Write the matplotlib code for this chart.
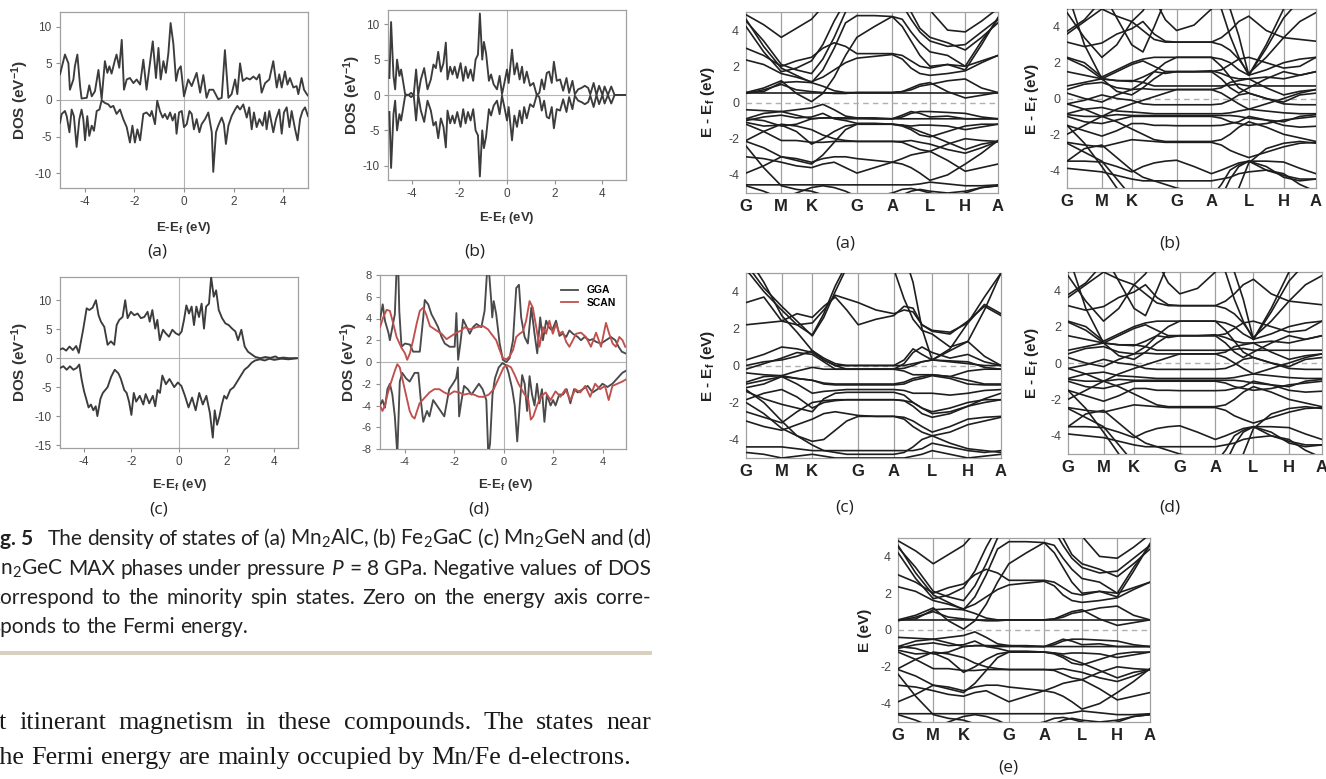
import matplotlib
matplotlib.use("Agg")
import matplotlib.pyplot as plt
from matplotlib.lines import Line2D
from matplotlib.patches import Rectangle

plt.rcParams["font.family"] = ["Liberation Sans", "DejaVu Sans"]
plt.rcParams["mathtext.fontset"] = "custom"
plt.rcParams["mathtext.rm"] = "Lato"
plt.rcParams["mathtext.bf"] = "Liberation Sans:bold"
plt.rcParams["mathtext.it"] = "Lato:italic"
plt.rcParams["axes.unicode_minus"] = False

W, H = 1326, 779

# ---------------- DOS data (energy in eV, DOS in 1/eV) ----------------
dos_a_e_up = [-5.0, -4.8, -4.66, -4.6, -4.46, -4.4, -4.3, -4.19, -4.13, -3.92, -3.82, -3.72, -3.59, -3.45,
              -3.32, -3.19, -3.09, -3.01, -2.92, -2.78, -2.72, -2.61, -2.51, -2.42, -2.31, -2.18, -2.04,
              -1.91, -1.77, -1.64, -1.51, -1.26, -1.13, -1.03, -0.94, -0.83, -0.73, -0.63, -0.54, -0.43,
              -0.32, -0.23, -0.13, 0.0, 0.17, 0.31, 0.51, 0.65, 0.78, 0.91, 1.02, 1.18, 1.38, 1.52, 1.65,
              1.79, 1.92, 2.06, 2.15, 2.26, 2.37, 2.53, 2.66, 2.8, 2.93, 3.04, 3.13, 3.27, 3.44, 3.6,
              3.74, 3.84, 3.94, 4.07, 4.17, 4.27, 4.41, 4.54, 4.61, 4.74, 4.84, 4.95, 5.0]
dos_a_up = [3.5, 6.2, 5.0, 1.4, 2.8, 4.6, 6.2, 1.9, 0.2, 0.3, 2.0, 0.5, 1.2, 4.1, 0.1, 5.3, 3.7, 4.6,
            3.6, 5.5, 6.2, 4.4, 8.2, 1.4, 2.8, 3.0, 2.3, 2.8, 2.1, 5.5, 1.4, 8.0, 3.0, 7.1, 2.8, 5.3,
            3.7, 6.4, 10.5, 7.7, 2.6, 4.1, 4.6, 0.5, 2.8, 1.9, 3.7, 1.0, 3.4, 0.3, 1.4, 1.4, 0.1, 0.3,
            6.8, 0.3, 0.8, 2.8, 0.8, 5.0, 2.6, 3.0, 2.8, 3.2, 2.8, 3.5, 1.0, 2.3, 2.8, 5.3, 1.7, 3.5,
            1.7, 3.9, 2.1, 3.0, 1.7, 1.9, 0.8, 3.0, 1.4, 0.8, 0.6]
dos_a_e_dn = [-5.0, -4.93, -4.8, -4.73, -4.62, -4.53, -4.44, -4.33, -4.22, -4.13, -4.06, -3.99, -3.9,
              -3.82, -3.72, -3.63, -3.52, -3.41, -3.32, -3.19, -3.05, -2.96, -2.85, -2.72, -2.58, -2.45,
              -2.31, -2.18, -2.08, -1.98, -1.88, -1.77, -1.64, -1.51, -1.37, -1.3, -1.17, -1.08, -0.97,
              -0.86, -0.77, -0.67, -0.56, -0.46, -0.36, -0.3, -0.2, -0.09, 0.0, 0.11, 0.22, 0.31, 0.4,
              0.51, 0.62, 0.71, 0.85, 0.98, 1.12, 1.18, 1.29, 1.38, 1.52, 1.61, 1.69, 1.79, 1.92, 2.06,
              2.15, 2.26, 2.39, 2.53, 2.63, 2.73, 2.82, 2.93, 3.04, 3.17, 3.27, 3.33, 3.44, 3.6, 3.71,
              3.84, 3.94, 4.03, 4.14, 4.25, 4.34, 4.48, 4.58, 4.68, 4.78, 4.88, 5.0]
dos_a_dn = [-3.1, -1.9, -1.5, -2.2, -4.4, -1.3, -2.2, -6.4, -2.6, -1.3, -2.6, -5.5, -2.2, -4.9, -3.5,
            -4.2, -1.5, -1.3, -0.05, -0.4, -0.6, -1.0, -0.8, -1.9, -1.3, -2.6, -3.7, -5.8, -3.5, -5.8,
            -4.0, -5.5, -1.9, -1.7, -2.2, -1.5, -3.3, -0.1, -1.5, -2.4, -1.9, -2.6, -1.7, -2.8, -1.9,
            -4.6, -1.7, -1.5, -3.7, -3.3, -1.5, -1.9, -4.0, -2.6, -4.4, -3.3, -2.6, -1.7, -4.4, -9.8,
            -4.4, -3.5, -2.4, -3.3, -6.0, -3.5, -2.2, -1.3, -0.8, -1.3, -0.6, -2.4, -1.0, -4.0, -1.7,
            -3.7, -2.6, -3.5, -1.7, -4.0, -1.5, -4.4, -2.6, -1.3, -4.6, -1.7, -1.0, -3.7, -1.5, -4.0,
            -5.5, -2.6, -1.5, -1.0, -2.2]

dos_b_e = [-4.94, -4.87, -4.77, -4.7, -4.62, -4.52, -4.45, -4.38, -4.28, -4.14, -4.03, -3.92, -3.82,
           -3.73, -3.62, -3.48, -3.34, -3.2, -3.09, -2.99, -2.89, -2.78, -2.67, -2.57, -2.5, -2.39,
           -2.29, -2.2, -2.09, -1.95, -1.84, -1.74, -1.64, -1.53, -1.42, -1.32, -1.22, -1.14, -1.04,
           -0.97, -0.88, -0.76, -0.67, -0.56, -0.42, -0.31, -0.21, -0.11, 0.0, 0.07, 0.21, 0.31, 0.42,
           0.53, 0.63, 0.72, 0.83, 0.97, 1.11, 1.25, 1.36, 1.46, 1.56, 1.67, 1.77, 1.88, 1.97, 2.09,
           2.23, 2.36, 2.5, 2.61, 2.75, 2.85, 2.99, 3.13, 3.27, 3.41, 3.5, 3.64, 3.76, 3.87, 4.01, 4.1,
           4.24, 4.38, 4.52, 4.98]
dos_b_up = [2.4, 10.3, 2.7, 0.8, 5.0, 2.7, 3.6, 2.2, 0.1, 0, 0.3, 0, 3.6, 0, 2.2, 3.8, 0.8, 2.2, 4.3,
            3.8, 6.1, 3.3, 4.5, 7.4, 2.2, 4.0, 2.9, 4.0, 2.4, 4.5, 2.0, 4.0, 2.4, 3.6, 2.0, 5.0, 5.7,
            11.5, 5.0, 7.5, 5.9, 2.0, 2.9, 1.5, 0.8, 2.7, 0.1, 1.7, 3.6, 1.7, 6.4, 2.9, 4.5, 2.2, 4.0,
            1.7, 3.3, 1.3, 1.7, 0, 0.3, 2.2, 0.8, 3.1, 3.3, 1.7, 4.7, 2.0, 2.2, 0.6, 2.4, 0.3, 2.0, 0.1,
            0.8, 1.0, 1.3, 1.0, 0.1, 1.7, 0, 1.3, 0, 1.2, 0, 1.2, 0, 0]
dos_b_dn = [-2.4, -10.3, -2.7, -0.8, -5.0, -2.7, -3.6, -2.2, -0.1, 0, -0.3, 0, -3.6, 0, -2.2, -3.8,
            -0.8, -2.2, -4.3, -3.8, -6.1, -3.3, -4.5, -7.4, -2.2, -4.0, -2.9, -4.0, -2.4, -4.5, -2.0,
            -4.0, -2.4, -3.6, -2.0, -5.0, -5.7, -11.5, -5.0, -7.5, -5.9, -2.0, -2.9, -1.5, -0.8, -2.7,
            -0.1, -1.7, -3.6, -1.7, -6.4, -2.9, -4.5, -2.2, -4.0, -1.7, -3.3, -1.3, -1.7, 0, -0.3,
            -2.2, -0.8, -3.1, -3.3, -1.7, -4.7, -2.0, -2.2, -0.6, -2.4, -0.3, -2.0, -0.1, -0.8, -1.0,
            -1.3, -1.0, -0.1, -1.7, 0, -1.3, 0, -1.2, 0, -1.2, 0, 0]

dos_c_e_up = [-5.0, -4.88, -4.74, -4.6, -4.46, -4.32, -4.21, -4.11, -4.02, -3.88, -3.77, -3.63, -3.49,
              -3.38, -3.28, -3.14, -3.0, -2.86, -2.72, -2.62, -2.51, -2.37, -2.26, -2.16, -2.02, -1.88,
              -1.74, -1.6, -1.46, -1.32, -1.23, -1.12, -1.0, -0.91, -0.81, -0.67, -0.56, -0.42, -0.28,
              -0.14, 0.0, 0.11, 0.21, 0.31, 0.42, 0.53, 0.63, 0.73, 0.84, 0.95, 1.05, 1.14, 1.26, 1.35,
              1.46, 1.56, 1.67, 1.81, 1.95, 2.09, 2.23, 2.37, 2.48, 2.62, 2.76, 2.9, 3.07, 3.21, 3.42,
              3.63, 3.84, 4.05, 4.18, 4.39, 4.6, 4.92]
dos_c_up = [1.5, 1.7, 1.3, 2.0, 1.4, 2.1, 0.9, 3.1, 5.1, 8.6, 8.3, 8.7, 10.0, 7.4, 6.3, 5.4, 2.3, 2.9,
            2.3, 5.7, 6.6, 7.1, 10.0, 6.9, 8.0, 7.4, 7.7, 6.9, 7.1, 8.0, 6.3, 8.3, 5.1, 6.6, 3.1, 4.9,
            4.3, 3.7, 4.9, 4.3, 4.0, 4.6, 6.6, 9.1, 7.7, 8.9, 5.7, 8.9, 7.1, 9.4, 5.1, 8.9, 9.4, 14.0,
            10.6, 11.7, 8.3, 6.9, 6.0, 5.7, 5.1, 4.6, 3.1, 4.9, 2.0, 1.1, 0.6, 0.2, 0, 0.2, 0.05, 0.3,
            0, 0.1, 0, 0]
dos_c_e_dn = [-5.0, -4.86, -4.72, -4.58, -4.44, -4.3, -4.19, -4.09, -3.99, -3.9, -3.8, -3.7, -3.6,
              -3.5, -3.43, -3.3, -3.2, -3.0, -2.85, -2.7, -2.55, -2.45, -2.3, -2.2, -2.1, -2.0, -1.9,
              -1.8, -1.65, -1.5, -1.4, -1.25, -1.1, -1.0, -0.9, -0.8, -0.7, -0.55, -0.4, -0.2, -0.05,
              0.1, 0.25, 0.4, 0.55, 0.7, 0.85, 1.0, 1.15, 1.3, 1.42, 1.5, 1.6, 1.7, 1.8, 1.9, 2.0, 2.15,
              2.3, 2.45, 2.6, 2.75, 2.9, 3.05, 3.2, 3.4, 3.6, 3.8, 4.0, 4.3, 4.6, 5.0]
dos_c_dn = [-1.7, -1.4, -2.0, -1.4, -2.0, -1.7, -1.1, -3.7, -5.7, -7.0, -8.5, -8.0, -9.0, -8.3, -10.0,
            -7.0, -6.0, -5.0, -3.2, -2.0, -2.6, -3.5, -5.5, -6.0, -7.5, -9.8, -6.0, -7.5, -6.5, -8.0,
            -6.2, -7.8, -6.5, -8.3, -5.5, -6.0, -3.0, -4.5, -3.6, -5.0, -4.2, -4.8, -6.5, -8.5, -6.8,
            -9.0, -6.0, -8.0, -6.5, -9.5, -13.7, -9.0, -11.5, -10.0, -8.0, -6.5, -7.0, -5.5, -5.0,
            -4.0, -3.0, -2.0, -1.5, -0.8, -0.4, -0.2, -0.4, -0.1, -0.3, -0.1, -0.2, 0.0]

gga_e_up = [-5.0, -4.89, -4.8, -4.66, -4.6, -4.49, -4.4, -4.33, -4.26, -4.22, -4.13, -3.99, -3.79,
            -3.66, -3.39, -3.25, -3.19, -3.05, -2.92, -2.78, -2.65, -2.51, -2.38, -2.18, -1.98, -1.91,
            -1.84, -1.75, -1.64, -1.51, -1.37, -1.24, -1.1, -0.9, -0.77, -0.67, -0.59, -0.5, -0.46,
            -0.4, -0.3, -0.16, -0.03, 0.11, 0.24, 0.38, 0.51, 0.62, 0.71, 0.85, 0.98, 1.12, 1.25, 1.36,
            1.48, 1.59, 1.72, 1.83, 1.96, 2.12, 2.26, 2.39, 2.53, 2.66, 2.8, 3.0, 3.13, 3.27, 3.47,
            3.6, 3.74, 3.94, 4.14, 4.34, 4.52, 4.65, 4.78, 4.92]
gga_up = [3.9, 5.3, 3.8, 2.7, 2.0, 3.3, 4.4, 8.5, 8.5, 4.7, 1.4, 1.7, 1.6, 0.95, 0.95, 4.1, 5.7, 5.3,
          4.4, 3.8, 3.2, 2.3, 1.7, 1.4, 1.4, 4.5, 0.2, 1.7, 3.9, 3.3, 2.6, 3.2, 3.5, 3.2, 4.7, 8.3, 8.3,
          5.6, 4.1, 5.6, 4.4, 1.7, 0.2, 0, 0.35, 2.0, 6.8, 7.1, 4.1, 2.3, 1.7, 5.0, 2.6, 0.8, 4.1, 2.0,
          3.8, 3.2, 2.9, 3.8, 2.4, 2.6, 2.3, 2.9, 2.6, 2.3, 2.0, 2.3, 2.0, 2.1, 1.85, 1.7, 2.0, 2.3,
          2.0, 1.4, 0.95, 0.8]
scan_e_up = [-5.0, -4.87, -4.73, -4.6, -4.46, -4.33, -4.13, -3.99, -3.9, -3.79, -3.66, -3.52, -3.39,
             -3.25, -3.12, -2.98, -2.72, -2.51, -2.31, -2.11, -1.91, -1.71, -1.57, -1.37, -1.1, -0.83,
             -0.63, -0.5, -0.3, -0.16, -0.03, 0.11, 0.24, 0.38, 0.51, 0.65, 0.78, 0.91, 1.05, 1.18,
             1.32, 1.45, 1.59, 1.72, 1.85, 1.99, 2.12, 2.26, 2.39, 2.53, 2.66, 2.8, 2.93, 3.13, 3.33,
             3.53, 3.74, 3.94, 4.14, 4.27, 4.41, 4.54, 4.68, 4.81, 4.92]
scan_up = [3.2, 4.1, 4.8, 4.7, 3.5, 2.3, 1.3, 0.8, 0.2, 0.8, 2.0, 3.5, 4.7, 5.0, 4.3, 3.3, 2.9, 2.6,
           2.1, 2.4, 2.7, 2.9, 3.2, 3.0, 3.2, 3.3, 3.0, 2.6, 2.0, 1.1, 0.35, 0.25, 0.5, 1.1, 2.3, 2.6,
           2.8, 3.8, 5.6, 5.0, 3.2, 1.4, 3.2, 2.6, 3.8, 2.6, 3.5, 2.6, 2.8, 1.85, 1.4, 2.0, 2.6, 2.7,
           2.3, 1.4, 2.7, 1.4, 3.6, 2.6, 1.7, 1.4, 2.3, 2.0, 1.4]
gga_e_dn = [-5.0, -4.9, -4.8, -4.7, -4.6, -4.5, -4.4, -4.3, -4.2, -4.1, -3.95, -3.8, -3.6, -3.45, -3.35,
            -3.25, -3.1, -3.0, -2.85, -2.7, -2.55, -2.4, -2.2, -2.05, -1.92, -1.85, -1.8, -1.7, -1.6,
            -1.45, -1.3, -1.15, -1.0, -0.85, -0.7, -0.62, -0.55, -0.45, -0.35, -0.2, -0.05, 0.1, 0.2,
            0.35, 0.45, 0.55, 0.65, 0.75, 0.85, 0.95, 1.05, 1.15, 1.25, 1.35, 1.45, 1.55, 1.65, 1.75,
            1.9, 2.0, 2.1, 2.25, 2.4, 2.55, 2.7, 2.85, 3.0, 3.2, 3.4, 3.6, 3.8, 4.0, 4.2, 4.4, 4.6, 4.8,
            4.95]
gga_dn = [-4.0, -3.5, -4.2, -2.5, -2.0, -3.0, -5.0, -8.5, -1.8, -1.0, -1.5, -1.8, -1.0, -1.0, -3.5,
          -5.5, -4.5, -5.0, -3.5, -4.0, -4.5, -5.0, -2.5, -2.0, -1.5, -0.5, -5.0, -3.5, -2.2, -2.5,
          -3.0, -2.5, -2.0, -2.5, -3.5, -8.5, -7.5, -3.0, -1.5, -0.5, -0.1, -0.3, -1.0, -2.5, -4.0,
          -7.3, -4.0, -1.2, -2.0, -4.5, -1.3, -3.0, -4.0, -2.0, -3.8, -2.5, -5.5, -3.0, -4.0, -3.5,
          -4.0, -3.0, -3.0, -2.5, -3.8, -2.5, -2.8, -2.5, -2.2, -2.8, -2.5, -2.0, -2.3, -2.0, -1.5,
          -1.0, -0.8]
scan_e_dn = [-5.0, -4.9, -4.8, -4.7, -4.6, -4.5, -4.4, -4.3, -4.2, -4.1, -4.0, -3.9, -3.8, -3.7, -3.6,
             -3.5, -3.4, -3.2, -3.0, -2.8, -2.6, -2.4, -2.2, -2.0, -1.8, -1.6, -1.4, -1.2, -1.0, -0.8,
             -0.6, -0.4, -0.2, 0.0, 0.15, 0.3, 0.45, 0.6, 0.8, 1.0, 1.1, 1.2, 1.35, 1.5, 1.7, 1.9, 2.1,
             2.3, 2.5, 2.7, 2.9, 3.1, 3.3, 3.5, 3.7, 3.9, 4.1, 4.25, 4.4, 4.6, 4.8, 4.95]
scan_dn = [-4.0, -4.5, -4.0, -3.0, -2.2, -1.5, -0.8, -0.2, -0.5, -1.5, -2.5, -3.5, -4.5, -5.0, -5.2,
           -4.5, -3.8, -3.3, -2.8, -2.5, -2.5, -2.8, -3.0, -2.7, -2.8, -3.0, -2.9, -3.0, -3.2, -3.2,
           -3.0, -2.5, -1.5, -0.5, -0.3, -0.5, -1.2, -2.0, -2.8, -3.5, -5.3, -5.0, -4.0, -3.2, -2.8,
           -3.5, -2.7, -3.2, -2.5, -3.5, -2.5, -2.8, -2.2, -3.2, -2.0, -2.5, -2.2, -3.5, -2.2, -2.0,
           -1.8, -1.6]

# ---------------- band structure data ----------------
sym_labels = ["G", "M", "K", "G", "A", "L", "H", "A"]
sym_pos = [0.0, 0.14, 0.26, 0.44, 0.58, 0.73, 0.87, 1.0]
kpts = [0, 0.07, 0.14, 0.20, 0.26, 0.305, 0.35, 0.395, 0.44, 0.51, 0.58, 0.62, 0.655, 0.69, 0.73,
        0.80, 0.87, 0.935, 1.0]

bands_a = [
    [4.85, 4.3, 3.6, 4.1, 4.6, 5.3, 6.0, 6.5, 6.5, 6.5, 6.5, 6.5, 6.2, 5.7, 5.1, 4.0, 3.9, 4.5, 5.2],
    [4.6, 3.1, 1.9, 1.5, 1.1, 1.8, 3.0, 4.4, 4.8, 4.8, 4.75, 4.2, 3.4, 2.6, 2.0, 2.1, 1.8, 3.2, 4.7],
    [4.5, 3.4, 2.1, 1.8, 1.6, 2.4, 3.6, 5.0, 5.8, 6.0, 6.0, 5.4, 4.6, 3.9, 3.4, 3.1, 3.2, 3.9, 4.6],
    [4.2, 2.8, 1.7, 1.9, 2.3, 3.2, 4.5, 5.6, 6.0, 6.0, 6.0, 5.8, 5.0, 4.1, 3.6, 3.3, 2.9, 3.6, 4.4],
    [3.0, 2.6, 2.0, 2.3, 2.5, 3.0, 3.3, 3.1, 2.7, 2.7, 2.7, 2.6, 2.3, 2.0, 1.9, 2.1, 2.0, 2.3, 2.6],
    [2.35, 2.1, 1.6, 1.4, 1.15, 1.4, 1.8, 2.2, 2.45, 2.55, 2.65, 2.4, 1.9, 1.6, 1.5, 1.6, 1.75, 2.2, 2.6],
    [0.55, 0.8, 1.2, 0.5, 0.05, 0.5, 1.4, 2.6, 3.6, 4.2, 4.75, 4.6, 3.9, 3.3, 2.8, 2.6, 2.0, 3.4, 4.6],
    [0.55, 0.55, 0.55, 0.55, 0.55, 0.55, 0.55, 0.55, 0.55, 0.55, 0.55, 0.55, 0.55, 0.55, 0.55, 0.55, 0.55, 0.55, 0.55],
    [0.55, 0.6, 1.1, 1.15, 1.1, 0.9, 0.65, 0.55, 0.55, 0.55, 0.55, 0.6, 0.8, 1.0, 1.1, 0.6, 0.25, 0.4, 0.55],
    [0.5, 0.7, 1.0, 0.7, 0.6, 0.55, 0.5, 0.5, 0.55, 0.55, 0.55, 0.6, 0.7, 0.9, 1.0, 1.2, 1.3, 0.8, 0.55],
    [-0.4, -0.45, -0.5, -0.4, -0.3, -0.1, -0.4, -0.75, -0.85, -0.9, -0.9, -0.8, -0.6, -0.5, -0.5, -0.55, -0.6, -0.8, -0.9],
    [-0.9, -0.6, -0.5, -0.7, -0.9, -0.85, -0.85, -0.9, -0.9, -0.9, -0.9, -0.9, -0.9, -0.9, -0.9, -0.9, -0.9, -0.9, -0.9],
    [-1.0, -0.8, -0.7, -0.85, -0.8, -0.6, -0.9, -1.0, -1.15, -1.15, -1.2, -1.3, -1.5, -1.8, -1.9, -1.6, -1.3, -1.2, -1.2],
    [-1.1, -1.3, -1.25, -1.6, -2.3, -2.0, -1.6, -1.3, -1.2, -1.2, -1.2, -1.25, -1.4, -1.6, -1.8, -2.2, -2.6, -2.3, -2.15],
    [-1.2, -1.6, -2.1, -2.1, -2.2, -2.2, -2.15, -2.15, -2.15, -2.15, -2.15, -2.15, -2.1, -2.2, -2.3, -2.6, -2.8, -2.5, -2.15],
    [-2.1, -1.6, -1.2, -1.3, -1.5, -1.8, -2.0, -2.1, -2.15, -2.15, -2.15, -2.2, -2.4, -2.6, -2.7, -2.3, -2.0, -2.1, -2.15],
    [-2.15, -2.5, -3.0, -3.2, -3.4, -2.9, -2.2, -1.5, -1.2, -1.2, -1.2, -1.25, -1.3, -1.25, -1.25, -1.3, -1.5, -1.35, -1.2],
    [-3.0, -3.1, -3.3, -3.5, -3.6, -3.4, -3.3, -3.6, -3.9, -3.6, -3.3, -3.1, -2.9, -2.8, -2.7, -3.2, -3.8, -3.6, -3.4],
    [-3.9, -3.5, -3.0, -3.1, -3.3, -3.1, -3.0, -3.0, -3.1, -3.2, -3.3, -3.4, -3.6, -3.9, -4.3, -4.0, -3.4, -2.8, -2.1],
    [-4.55, -4.55, -4.55, -4.55, -4.55, -4.55, -4.55, -4.55, -4.55, -4.55, -4.55, -4.55, -4.55, -4.5, -4.4, -4.5, -4.6, -4.6, -4.55],
    [-2.4, -3.6, -4.6, -4.8, -4.9, -5.1, -5.3, -5.5, -5.5, -5.5, -5.3, -5.1, -4.9, -4.8, -4.9, -5.0, -4.9, -4.7, -4.6],
    [-4.6, -4.9, -5.3, -5.0, -4.7, -4.6, -4.7, -4.9, -5.2, -5.2, -5.0, -4.8, -4.75, -4.85, -5.0, -5.2, -5.0, -4.7, -4.6],
    [-0.9, -1.0, -1.3, -1.2, -0.9, -0.85, -0.85, -0.85, -0.85, -0.85, -0.9, -0.7, -0.5, -0.6, -0.8, -0.75, -0.9, -0.9, -0.9],
]

bands_b = [
    [3.75, 4.4, 5.5, 6.0, 6.0, 6.0, 5.6, 4.4, 3.8, 4.1, 5.0, 5.8, 6.0, 6.0, 6.0, 6.0, 6.0, 6.0, 6.0],
    [4.8, 3.4, 2.3, 3.0, 4.3, 3.8, 3.3, 3.15, 3.15, 3.15, 3.15, 3.0, 2.7, 2.2, 1.4, 2.3, 3.4, 4.3, 4.8],
    [3.15, 2.9, 3.1, 3.6, 3.9, 4.3, 3.6, 3.2, 3.15, 3.15, 3.15, 3.4, 3.8, 4.3, 4.6, 3.8, 3.4, 3.3, 3.2],
    [2.3, 2.0, 1.2, 1.6, 2.0, 2.2, 2.3, 2.3, 2.3, 2.3, 2.3, 2.2, 2.0, 1.6, 1.3, 1.6, 2.0, 2.2, 2.3],
    [2.25, 1.8, 1.1, 1.5, 1.9, 2.1, 1.8, 1.5, 1.5, 1.5, 1.5, 1.6, 1.9, 2.2, 2.3, 2.0, 1.7, 1.8, 2.3],
    [1.5, 1.3, 1.1, 1.0, 0.95, 1.2, 1.5, 1.4, 1.5, 1.5, 1.55, 1.4, 1.2, 1.1, 1.1, 1.2, 1.1, 1.3, 1.5],
    [0.7, 0.9, 1.1, 1.0, 1.0, 0.9, 0.7, 0.7, 0.7, 0.7, 0.7, 0.7, 0.75, 0.8, 0.7, 0.7, 0.7, 0.7, 0.7],
    [0.5, 0.8, 0.9, 0.6, 0.5, 0.55, 0.5, 0.5, 0.5, 0.5, 0.5, 0.6, 0.9, 1.0, 1.1, 0.6, 0.2, 0.4, 0.5],
    [0.3, 0.0, -0.2, 0.2, 0.5, 0.9, 1.5, 2.0, 2.3, 2.3, 2.3, 1.8, 1.2, 0.6, 0.3, 0.0, -0.2, 0.2, 0.3],
    [-0.3, -0.1, 0.2, 0.0, -0.1, -0.3, -0.35, -0.35, -0.35, -0.35, -0.35, -0.3, -0.1, 0.2, 0.3, 0.0, -0.3, -0.35, -0.35],
    [-0.85, -0.6, -0.5, -0.7, -0.75, -0.8, -0.85, -0.85, -0.85, -0.85, -0.85, -0.85, -0.8, -0.7, -0.6, -0.7, -0.8, -0.85, -0.85],
    [-0.9, -1.0, -1.0, -0.9, -0.95, -0.95, -0.95, -0.95, -0.95, -0.95, -0.95, -0.95, -0.95, -1.0, -1.1, -1.2, -1.3, -1.0, -0.9],
    [-1.0, -1.3, -1.4, -1.2, -1.0, -1.0, -1.0, -1.0, -1.0, -1.0, -1.0, -1.1, -1.3, -1.4, -1.5, -1.4, -1.2, -1.1, -1.0],
    [-1.5, -1.8, -2.1, -1.8, -1.4, -1.4, -1.5, -1.5, -1.52, -1.52, -1.52, -1.5, -1.4, -1.3, -1.0, -1.2, -1.5, -1.6, -1.55],
    [-2.0, -1.5, -1.0, -1.3, -1.7, -2.0, -2.3, -2.4, -2.4, -2.4, -2.4, -2.3, -2.0, -1.6, -1.3, -1.6, -2.0, -2.2, -2.4],
    [-2.45, -2.6, -2.7, -2.5, -2.3, -2.35, -2.4, -2.45, -2.45, -2.45, -2.45, -2.6, -2.9, -3.1, -3.3, -3.0, -2.7, -2.5, -2.45],
    [-3.5, -3.5, -3.55, -3.8, -4.1, -3.8, -3.6, -3.5, -3.45, -3.8, -4.2, -4.0, -3.8, -3.6, -3.5, -3.5, -3.55, -3.9, -4.2],
    [-3.9, -4.0, -4.1, -4.3, -4.5, -4.6, -4.6, -4.6, -4.6, -4.6, -4.6, -4.5, -4.4, -4.2, -4.1, -4.0, -4.3, -4.5, -4.5],
    [-2.5, -3.0, -3.5, -4.5, -5.5, -6.0, -6.0, -6.0, -6.0, -6.0, -6.0, -5.5, -4.5, -3.8, -3.5, -4.0, -4.2, -4.8, -5.2],
    [5.0, 6.0, 6.0, 4.5, 3.0, 2.6, 4.0, 5.5, 6.0, 6.0, 6.0, 5.0, 3.5, 2.3, 1.3, 2.8, 4.5, 5.5, 6.0],
    [3.6, 4.3, 5.0, 4.6, 4.3, 4.9, 6.0, 6.0, 6.0, 6.0, 6.0, 6.0, 5.0, 3.5, 1.3, 3.0, 5.0, 6.0, 6.0],
    [-3.5, -2.8, -2.6, -3.3, -4.0, -4.4, -4.6, -4.8, -5.0, -5.2, -5.5, -4.8, -4.0, -3.7, -3.5, -3.8, -4.4, -4.6, -4.5],
    [-1.5, -2.5, -3.8, -5.0, -6.0, -6.0, -6.0, -6.0, -6.0, -6.0, -6.0, -6.0, -6.0, -5.0, -3.6, -2.8, -2.5, -2.4, -2.5],
    [6.0, 3.0, 1.1, 0.4, 0.2, 0.6, 1.1, 1.5, 1.5, 1.5, 1.5, 1.1, 0.6, 0.3, 0.6, 1.1, 1.5, 1.3, 1.5],
    [-0.3, -0.6, -1.0, -0.6, -0.3, -0.1, 0.1, 0.3, 0.5, 0.5, 0.5, 0.3, 0.0, -0.3, -0.6, -0.3, 0.0, 0.3, 0.5],
]

bands_c = [
    [5.2, 4.0, 3.0, 2.2, 1.65, 2.8, 4.3, 5.5, 6.0, 6.0, 6.0, 6.0, 4.5, 2.0, 0.3, 0.9, 2.3, 3.7, 5.0],
    [5.5, 4.2, 3.2, 2.4, 1.6, 2.6, 4.0, 5.3, 6.0, 6.0, 5.2, 3.6, 2.5, 1.9, 1.7, 1.0, 1.3, 3.0, 5.0],
    [3.4, 3.7, 2.4, 2.2, 2.3, 3.0, 3.8, 3.6, 3.4, 3.0, 2.8, 3.0, 2.9, 2.2, 1.85, 1.7, 2.4, 3.2, 2.7],
    [2.2, 2.3, 2.4, 2.8, 2.6, 3.2, 3.7, 3.0, 2.2, 2.5, 2.7, 3.2, 3.1, 2.2, 1.9, 1.8, 2.3, 3.3, 2.8],
    [6.0, 4.5, 2.7, 1.8, 0.8, 0.3, 0.0, 0.0, 0.0, 0.0, 0.0, 0.3, 0.9, 0.6, 0.3, 0.8, 1.3, 0.5, 0.0],
    [0.0, 0.2, 0.3, 0.5, 0.8, 0.4, 0.1, 0.0, 0.0, 0.0, 0.0, 0.0, 0.1, 0.2, 0.3, 0.2, 0.1, 0.0, 0.0],
    [-0.2, 0.1, 0.4, 0.7, 0.6, 0.2, -0.2, -0.2, -0.2, -0.2, -0.2, -0.15, 0.0, 0.2, 0.3, 0.25, 0.2, -0.1, -0.2],
    [-0.4, -0.5, -0.55, -0.3, -0.1, -0.2, -0.2, -0.2, -0.2, -0.2, -0.2, -0.3, -0.5, -0.5, -0.5, -0.6, -0.3, -0.2, -0.2],
    [-0.9, -0.6, -0.55, -0.7, -0.8, -0.95, -1.0, -1.0, -1.0, -1.0, -1.0, -0.9, -0.7, -0.6, -0.5, -0.6, -0.8, -1.0, -1.0],
    [-1.0, -0.8, -0.6, -0.7, -0.8, -1.0, -1.05, -1.05, -1.05, -1.05, -1.05, -1.0, -0.8, -0.7, -0.55, -0.7, -1.0, -1.05, -1.05],
    [-1.2, -1.0, -0.6, -1.0, -1.5, -1.4, -1.35, -1.3, -1.3, -1.3, -1.3, -1.35, -1.5, -1.5, -1.5, -1.6, -1.5, -1.35, -1.3],
    [-1.4, -1.8, -2.1, -2.3, -2.5, -1.8, -1.5, -1.45, -1.45, -1.45, -1.45, -1.6, -2.0, -2.3, -2.6, -2.5, -2.2, -1.8, -1.5],
    [-1.85, -1.5, -1.3, -1.7, -2.3, -2.0, -1.9, -1.85, -1.85, -1.85, -1.85, -1.9, -2.2, -2.6, -2.8, -2.6, -2.2, -2.0, -1.85],
    [-2.5, -2.8, -3.1, -2.5, -2.0, -1.9, -1.85, -1.85, -1.85, -1.85, -1.85, -1.9, -2.0, -2.3, -2.5, -2.3, -2.0, -1.85, -1.85],
    [-3.0, -3.3, -3.5, -3.2, -2.9, -2.6, -2.5, -2.6, -2.7, -2.75, -2.75, -2.8, -3.0, -3.3, -3.6, -3.3, -2.9, -2.8, -2.75],
    [-2.0, -2.6, -3.4, -3.8, -4.1, -4.0, -3.5, -3.0, -2.75, -2.75, -2.75, -2.9, -3.3, -3.6, -3.8, -3.6, -3.2, -3.0, -2.8],
    [-4.4, -4.4, -4.4, -4.5, -4.6, -4.6, -4.6, -4.6, -4.6, -4.6, -4.6, -4.6, -4.6, -4.5, -4.2, -4.4, -4.6, -4.7, -4.6],
    [-4.7, -4.8, -5.0, -4.9, -4.8, -4.9, -5.0, -5.0, -5.0, -5.0, -5.0, -5.0, -4.9, -4.8, -4.6, -4.8, -5.0, -4.9, -4.8],
    [-1.3, -2.0, -3.0, -3.8, -4.3, -4.6, -4.7, -4.8, -4.8, -4.8, -4.8, -4.7, -4.4, -4.0, -3.8, -4.2, -4.5, -4.6, -4.7],
    [0.3, 0.6, 1.0, 0.9, 0.7, 0.3, 0.0, -0.2, -0.2, -0.2, -0.2, 0.1, 0.7, 1.0, 0.7, 0.4, 0.6, 0.2, 0.0],
]

# panels (d) and (e) repeat the band sets of (b) and (a)
bands_d = bands_b
bands_e = bands_a


def rect(l, t, r, b):
    return [l / W, 1 - b / H, (r - l) / W, (b - t) / H]


def ftext(x, y, s, **kw):
    return fig.text(x / W, 1 - y / H, s, **kw)


def style_spines(ax):
    for sp in ax.spines.values():
        sp.set_color("#a0a0a0")
        sp.set_linewidth(0.9)


def dos_panel(box, curves, ylim, yticks, xlim=(-5, 5), tick_size=8.5):
    ax = fig.add_axes(rect(*box))
    ax.axhline(0, color="#b4b4b4", lw=0.8, zorder=1)
    ax.axvline(0, color="#b4b4b4", lw=0.8, zorder=1)
    for e, v, c in curves:
        ax.plot(e, v, color=c, lw=1.35, zorder=3)
    ax.set_xlim(*xlim)
    ax.set_ylim(*ylim)
    ax.set_xticks([-4, -2, 0, 2, 4])
    ax.set_yticks(yticks)
    ax.tick_params(labelsize=tick_size, labelcolor="#444444", color="#909090", length=3, width=0.8, pad=3)
    style_spines(ax)
    return ax


def band_panel(box, bands, show_fermi=True):
    ax = fig.add_axes(rect(*box))
    for k in sym_pos[1:-1]:
        ax.axvline(k, color="#a0a0a0", lw=0.9, zorder=1)
    if show_fermi:
        ax.axhline(0, color="#b0b0b0", lw=1.0, dashes=(4, 3), zorder=1)
    for b in bands:
        ax.plot(kpts, b, color="#1e1e1e", lw=1.2, zorder=3)
    ax.set_xlim(0, 1)
    ax.set_ylim(-5, 5)
    ax.set_yticks([-4, -2, 0, 2, 4])
    ax.set_xticks(sym_pos)
    ax.set_xticklabels(sym_labels, fontsize=12, fontweight="bold", color="#222222")
    ax.tick_params(axis="x", length=0, pad=4)
    ax.tick_params(axis="y", labelsize=9, labelcolor="#444444", length=0, pad=5)
    style_spines(ax)
    return ax


def text_line(tokens, y, x_right=None, hidden="", size=12.5, family="Lato",
              color="#222222", justify=True, extra=None):
    # place words one by one so the line can be justified like the page
    r = fig.canvas.get_renderer()
    arts, widths = [], []
    for tok in tokens:
        s, wt = tok if isinstance(tok, tuple) else (tok, "normal")
        a = ftext(0, y, s, ha="left", va="baseline", fontsize=size, family=family,
                  fontweight=wt, color=color)
        arts.append(a)
        widths.append(a.get_window_extent(r).width)
    hide = 0
    if hidden:
        wt = tokens[0][1] if isinstance(tokens[0], tuple) else "normal"
        t = ftext(0, y, hidden, fontsize=size, family=family, fontweight=wt)
        hide = t.get_window_extent(r).width
        t.remove()
    extra = extra or {}
    x = -hide
    if justify:
        gap = (x_right - x - sum(widths) - sum(extra.values())) / (len(arts) - 1)
    else:
        gap = size * 0.27 * 100 / 72
    for i, (a, w) in enumerate(zip(arts, widths)):
        a.set_x(x / W)
        x += w + gap + extra.get(i, 0)


fig = plt.figure(figsize=(W / 100, H / 100), dpi=100)
fig.patch.set_facecolor("white")

dark = "#3c3c3c"
xlab = r"E-E$_\mathbf{f}$ (eV)"
ylab_dos = r"DOS (eV$^\mathbf{-1}$)"
lab_kw = dict(fontsize=9.5, fontweight="bold", color="#333333", ha="center", va="center")
ylab_kw = dict(fontsize=11, fontweight="bold", color="#333333", ha="center", va="center", rotation=90)
panel_kw = dict(fontsize=12.5, family="Open Sans", color="#222222", ha="center", va="center")

# DOS (a)
dos_panel((60, 12, 308, 188), [(dos_a_e_up, dos_a_up, dark), (dos_a_e_dn, dos_a_dn, dark)],
          (-12, 12), [-10, -5, 0, 5, 10])
ftext(184, 228, xlab, **lab_kw)
ftext(20, 100, ylab_dos, **ylab_kw)
ftext(157, 252, "(a)", **panel_kw)

# DOS (b)
dos_panel((388, 10, 626, 180), [(dos_b_e, dos_b_up, dark), (dos_b_e, dos_b_dn, dark)],
          (-12, 12), [-10, -5, 0, 5, 10])
ftext(507, 218, xlab, **lab_kw)
ftext(352, 95, ylab_dos, **ylab_kw)
ftext(475, 252, "(b)", **panel_kw)

# DOS (c)
dos_panel((60, 277, 298, 448), [(dos_c_e_up, dos_c_up, dark), (dos_c_e_dn, dos_c_dn, dark)],
          (-15.5, 14), [-15, -10, -5, 0, 5, 10])
ftext(180, 485, xlab, **lab_kw)
ftext(20, 362, ylab_dos, **ylab_kw)
ftext(159, 510, "(c)", **panel_kw)

# DOS (d): GGA vs SCAN
red = "#c0504d"
ax_d = dos_panel((380, 275, 626, 449),
                 [(gga_e_up, gga_up, "#4a4a4a"), (gga_e_dn, gga_dn, "#4a4a4a"),
                  (scan_e_up, scan_up, red), (scan_e_dn, scan_dn, red)],
                 (-8, 8), [-8, -6, -4, -2, 0, 2, 4, 6, 8], xlim=(-5, 4.95), tick_size=8)
ax_d.legend(handles=[Line2D([], [], color="#4a4a4a", lw=1.3, label="GGA"),
                     Line2D([], [], color=red, lw=1.3, label="SCAN")],
            loc="upper right", frameon=False, handlelength=1.6, handletextpad=0.8,
            labelspacing=0.25, borderaxespad=0.6, prop=dict(size=7.5, weight="bold"))
ftext(506, 485, xlab, **lab_kw)
ftext(349, 362, ylab_dos, **ylab_kw)
ftext(479, 510, "(d)", **panel_kw)

# band structures
ylab_band = r"E - E$_\mathbf{f}$ (eV)"
band_ylab_kw = dict(fontsize=11, fontweight="bold", color="#222222", ha="center", va="center",
                    rotation=90)
band_panel((746, 12, 998, 193), bands_a)
ftext(708, 102, ylab_band, **band_ylab_kw)
ftext(845, 243, "(a)", **panel_kw)

band_panel((1067, 9, 1316, 188), bands_b)
ftext(1032, 99, ylab_band, **band_ylab_kw)
ftext(1170, 243, "(b)", **panel_kw)

band_panel((746, 273, 1001, 458), bands_c)
ftext(708, 366, ylab_band, **band_ylab_kw)
ftext(845, 507, "(c)", **panel_kw)

band_panel((1068, 272, 1322, 454), bands_d)
ftext(1032, 363, ylab_band, **band_ylab_kw)
ftext(1170, 507, "(d)", **panel_kw)

band_panel((898, 538, 1150, 722), bands_e)
ftext(865, 630, "E (eV)", **band_ylab_kw)
ftext(1008, 768, "(e)", **panel_kw)

# caption (the left edge of the page is cut off)
cap1 = [("Fig. 5", "bold"), "The", "density", "of", "states", "of", "(a)", "Mn$_2$AlC,", "(b)",
        "Fe$_2$GaC", "(c)", "Mn$_2$GeN", "and", "(d)"]
cap2 = ["Mn$_2$GeC", "MAX", "phases", "under", "pressure", "$P$", "=", "8", "GPa.", "Negative",
        "values", "of", "DOS"]
cap3 = ["correspond", "to", "the", "minority", "spin", "states.", "Zero", "on", "the", "energy",
        "axis", "corre-"]
cap4 = ["sponds", "to", "the", "Fermi", "energy."]
cap_size = 15
text_line(cap1, 545, x_right=651, hidden="Fi", size=cap_size, extra={0: 10})
text_line(cap2, 575, x_right=651, hidden="M", size=cap_size)
text_line(cap3, 604, x_right=651, hidden="c", size=cap_size)
text_line(cap4, 633, hidden="s", size=cap_size, justify=False)

fig.add_artist(Rectangle((0, 1 - 655 / H), 652 / W, 4 / H, transform=fig.transFigure,
                         facecolor="#d8d1c0", edgecolor="none"))

body1 = ["that", "itinerant", "magnetism", "in", "these", "compounds.", "The", "states", "near"]
body2 = ["the", "Fermi", "energy", "are", "mainly", "occupied", "by", "Mn/Fe", "d-electrons."]
text_line(body1, 729, x_right=651, hidden="tha", size=18.8, family="Liberation Serif",
          color="#1a1a1a")
text_line(body2, 764, hidden="t", size=18.8, family="Liberation Serif", color="#1a1a1a",
          justify=False)

fig.savefig("out.png", dpi=100, facecolor="white")
